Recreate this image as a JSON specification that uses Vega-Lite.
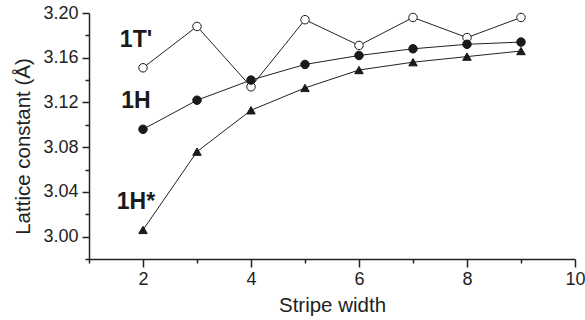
{
  "$schema": "https://vega.github.io/schema/vega-lite/v6.json",
  "width": 486,
  "height": 246,
  "autosize": "none",
  "padding": {"left": 89, "top": 13, "right": 10, "bottom": 61},
  "background": "white",
  "config": {
    "view": {"stroke": null},
    "font": "Liberation Sans",
    "axis": {
      "grid": false,
      "domainColor": "#222222",
      "domainWidth": 1.5,
      "tickColor": "#222222",
      "tickWidth": 1.5,
      "labelColor": "#222222",
      "titleColor": "#222222",
      "labelFont": "Liberation Sans",
      "titleFont": "Liberation Sans",
      "titleFontWeight": "normal",
      "labelFontSize": 18,
      "titleFontSize": 20.5
    }
  },
  "data": {
    "values": [
      {"series": "1T'", "width": 2, "a": 3.151},
      {"series": "1T'", "width": 3, "a": 3.188},
      {"series": "1T'", "width": 4, "a": 3.134},
      {"series": "1T'", "width": 5, "a": 3.194},
      {"series": "1T'", "width": 6, "a": 3.171},
      {"series": "1T'", "width": 7, "a": 3.196},
      {"series": "1T'", "width": 8, "a": 3.178},
      {"series": "1T'", "width": 9, "a": 3.196},
      {"series": "1H", "width": 2, "a": 3.096},
      {"series": "1H", "width": 3, "a": 3.122},
      {"series": "1H", "width": 4, "a": 3.140},
      {"series": "1H", "width": 5, "a": 3.154},
      {"series": "1H", "width": 6, "a": 3.162},
      {"series": "1H", "width": 7, "a": 3.168},
      {"series": "1H", "width": 8, "a": 3.172},
      {"series": "1H", "width": 9, "a": 3.174},
      {"series": "1H*", "width": 2, "a": 3.006},
      {"series": "1H*", "width": 3, "a": 3.076},
      {"series": "1H*", "width": 4, "a": 3.113},
      {"series": "1H*", "width": 5, "a": 3.133},
      {"series": "1H*", "width": 6, "a": 3.149},
      {"series": "1H*", "width": 7, "a": 3.156},
      {"series": "1H*", "width": 8, "a": 3.161},
      {"series": "1H*", "width": 9, "a": 3.166}
    ]
  },
  "resolve": {"axis": {"x": "independent", "y": "independent"}},
  "layer": [
    {
      "mark": {"type": "line", "color": "#222222", "strokeWidth": 1},
      "encoding": {
        "x": {
          "field": "width", "type": "quantitative",
          "scale": {"domain": [1, 10], "nice": false, "zero": false},
          "axis": {"orient": "bottom", "values": [2, 4, 6, 8, 10], "tickSize": 8, "labelPadding": 3, "title": "Stripe width", "titlePadding": 7, "labelFlush": false}
        },
        "y": {
          "field": "a", "type": "quantitative",
          "scale": {"domain": [2.98, 3.2], "nice": false, "zero": false},
          "axis": {"orient": "left", "values": [3.0, 3.04, 3.08, 3.12, 3.16, 3.2], "format": ".2f", "tickSize": 7, "labelPadding": 4, "title": "Lattice constant (Å)", "titlePadding": 9, "titleY": 133, "labelFlush": false}
        },
        "detail": {"field": "series"}
      }
    },
    {
      "mark": {"type": "point", "filled": true, "stroke": "#1a1a1a", "strokeWidth": 1, "opacity": 1},
      "encoding": {
        "x": {"field": "width", "type": "quantitative", "axis": {"orient": "bottom", "values": [1, 3, 5, 7, 9], "labels": false, "tickSize": 4, "domain": false, "title": null}},
        "y": {"field": "a", "type": "quantitative", "axis": {"orient": "left", "values": [2.98, 3.02, 3.06, 3.1, 3.14, 3.18], "labels": false, "tickSize": 4, "domain": false, "title": null}},
        "shape": {"field": "series", "type": "nominal", "scale": {"domain": ["1T'", "1H", "1H*"], "range": ["circle", "circle", "triangle-up"]}, "legend": null},
        "fill": {"field": "series", "type": "nominal", "scale": {"domain": ["1T'", "1H", "1H*"], "range": ["white", "#1a1a1a", "#1a1a1a"]}, "legend": null},
        "size": {"field": "series", "type": "nominal", "scale": {"domain": ["1T'", "1H", "1H*"], "range": [72, 72, 130]}, "legend": null}
      }
    },
    {
      "transform": [{"filter": "datum.width == 2"}],
      "mark": {"type": "text", "font": "Liberation Sans", "fontWeight": "bold", "fontSize": 23, "color": "#1a1a1a", "align": "center", "baseline": "middle", "dx": -7, "dy": -28},
      "encoding": {
        "x": {"field": "width", "type": "quantitative", "axis": null},
        "y": {"field": "a", "type": "quantitative", "axis": null},
        "text": {"field": "series"}
      }
    }
  ]
}
